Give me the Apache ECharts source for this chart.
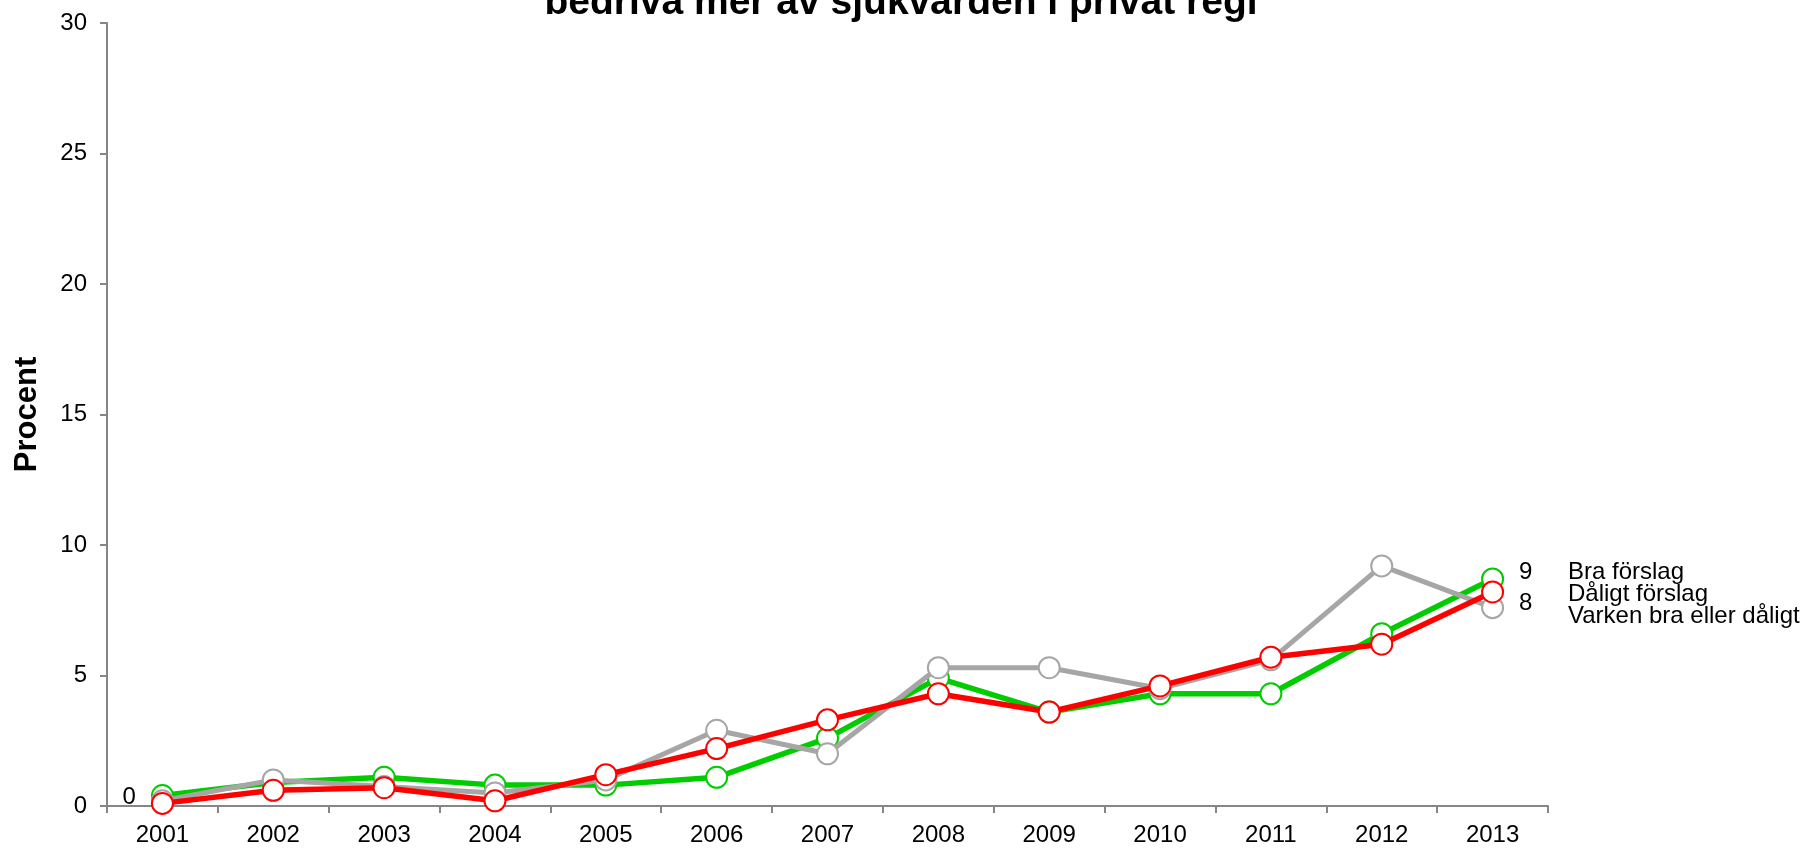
<!DOCTYPE html>
<html>
<head>
<meta charset="utf-8">
<script src="https://cdn.jsdelivr.net/npm/echarts@6/dist/echarts.min.js"></script>
<style>
html,body{margin:0;padding:0;background:#fff;}
#chart{width:1805px;height:851px;}
</style>
</head>
<body>
<div id="chart"></div>
<script>
const years = ['2001','2002','2003','2004','2005','2006','2007','2008','2009','2010','2011','2012','2013'];
const seriesNames = ['Bra förslag', 'Dåligt förslag', 'Varken bra eller dåligt'];
const braForslag = [0.4, 0.9, 1.1, 0.8, 0.8, 1.1, 2.6, 4.9, 3.6, 4.3, 4.3, 6.6, 8.7];
const daligtForslag = [0.1, 0.6, 0.7, 0.2, 1.2, 2.2, 3.3, 4.3, 3.6, 4.6, 5.7, 6.2, 8.2];
const varken = [0.2, 1.0, 0.75, 0.5, 1.0, 2.9, 2.0, 5.3, 5.3, 4.5, 5.6, 9.2, 7.6];
const yTicks = [0, 5, 10, 15, 20, 25, 30];
const titleText = 'bedriva mer av sjukvården i privat regi';
const yName = 'Procent';

const FONT = 'Arial, "Liberation Sans", sans-serif';
const chart = echarts.init(document.getElementById('chart'), null, {renderer: 'canvas'});

function labelled(values, showIdx, pos, offset) {
  return values.map((v, i) => {
    const k = showIdx.indexOf(i);
    if (k < 0) return v;
    return {value: v, label: {show: true, position: pos[k], distance: 15, offset: offset[k],
      formatter: p => String(Math.round(p.value)), color: '#000', fontSize: 24, fontFamily: FONT}};
  });
}

function mkSeries(name, data, color, width, z) {
  return {
    name: name, type: 'line', data: data, z: z,
    symbol: 'circle', symbolSize: 21,
    itemStyle: {color: '#fff', borderColor: color, borderWidth: 2},
    lineStyle: {color: color, width: width},
    emphasis: {disabled: true},
    animation: false
  };
}

const option = {
  backgroundColor: '#fff',
  animation: false,
  title: {
    text: titleText,
    left: 896, top: -21, textAlign: 'center',
    textStyle: {fontSize: 39, fontWeight: 'bold', color: '#000', fontFamily: FONT}
  },
  legend: {
    data: seriesNames,
    orient: 'vertical', left: 1557, top: 555,
    itemGap: -2, itemWidth: 0, itemHeight: 19, icon: 'rect',
    itemStyle: {opacity: 0}, lineStyle: {opacity: 0},
    selectedMode: false,
    textStyle: {fontSize: 24, color: '#000', fontFamily: FONT, lineHeight: 19}
  },
  grid: {left: 107, right: 257, top: 23, bottom: 45, containLabel: false},
  xAxis: {
    type: 'category', data: years, boundaryGap: true,
    axisLine: {lineStyle: {color: '#868686', width: 2}},
    axisTick: {show: true, length: 7, lineStyle: {color: '#868686', width: 2}},
    axisLabel: {color: '#000', fontSize: 24, fontFamily: FONT, margin: 17}
  },
  yAxis: {
    type: 'value', min: yTicks[0], max: yTicks[yTicks.length - 1], interval: 5,
    name: yName, nameLocation: 'middle', nameGap: 64, nameRotate: 90,
    nameTextStyle: {fontSize: 31, fontWeight: 'bold', color: '#000', fontFamily: FONT},
    axisLine: {show: true, lineStyle: {color: '#868686', width: 2}},
    axisTick: {show: true, length: 7, lineStyle: {color: '#868686', width: 2}},
    splitLine: {show: false},
    axisLabel: {color: '#000', fontSize: 24, fontFamily: FONT, margin: 20}
  },
  series: [
    mkSeries(seriesNames[0], labelled(braForslag, [0, 12], ['left', 'right'], [[0, 2], [0, -7]]), '#00CC00', 5.5, 2),
    mkSeries(seriesNames[2], varken, '#A6A6A6', 5, 3),
    mkSeries(seriesNames[1], labelled(daligtForslag, [12], ['right'], [[0, 11]]), '#FF0000', 5.5, 4)
  ]
};
chart.setOption(option);
</script>
</body>
</html>
